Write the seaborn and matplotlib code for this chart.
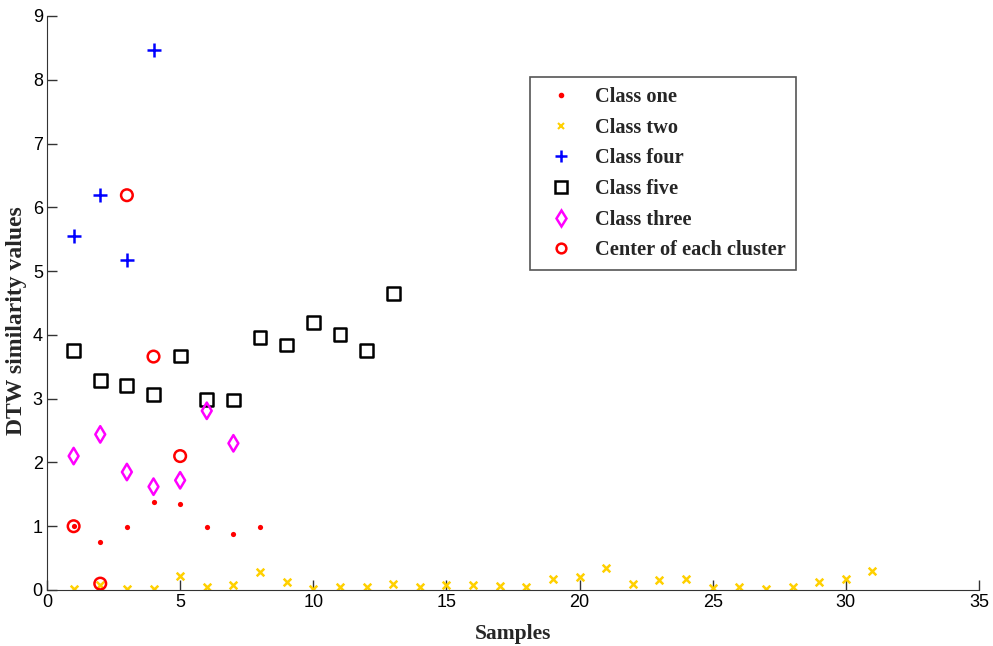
import numpy as np
import pandas as pd
import seaborn as sns
import matplotlib.pyplot as plt
from matplotlib.lines import Line2D

# data
x_one = [1, 2, 3, 4, 5, 6, 7, 8]
y_one = [1.0, 0.76, 0.99, 1.38, 1.35, 0.98, 0.88, 0.99]

x_two = list(range(1, 32))
y_two = [0.01, 0.08, 0.02, 0.02, 0.22, 0.04, 0.08, 0.28, 0.12, 0.02,
         0.05, 0.05, 0.09, 0.05, 0.08, 0.08, 0.07, 0.05, 0.17, 0.21,
         0.34, 0.10, 0.15, 0.18, 0.03, 0.05, 0.02, 0.05, 0.13, 0.18, 0.30]

x_four = [1, 2, 3, 4]
y_four = [5.55, 6.19, 5.17, 8.46]

x_five = list(range(1, 14))
y_five = [3.75, 3.29, 3.21, 3.07, 3.67, 2.99, 2.98, 3.96, 3.84, 4.20, 4.00, 3.76, 4.65]

x_three = [1, 2, 3, 4, 5, 6, 7]
y_three = [2.10, 2.44, 1.85, 1.62, 1.72, 2.81, 2.30]

x_center = [1, 2, 3, 4, 5]
y_center = [1.0, 0.1, 6.19, 3.66, 2.10]

labels = ['Class one', 'Class two', 'Class four', 'Class five', 'Class three', 'Center of each cluster']

sns.set_style('ticks')
plt.rcParams['font.family'] = ['Liberation Sans', 'DejaVu Sans']

fig = plt.figure(figsize=(9.93, 6.46), dpi=100)
ax = fig.add_axes([47 / 993, 56 / 646, 932 / 993, 574 / 646])

yellow = '#FFD000'

# filled / line markers
sns.scatterplot(x=x_one, y=y_one, marker='o', s=14, color='red', edgecolor='red', linewidth=0, ax=ax)
sns.scatterplot(x=x_two, y=y_two, marker='x', s=30, color=yellow, linewidth=1.8, ax=ax)
sns.scatterplot(x=x_four, y=y_four, marker='+', s=110, color='blue', linewidth=1.8, ax=ax)

# open markers: draw, then empty the faces
open_sets = [(x_five, y_five, 's', 85, 'black'),
             (x_three, y_three, 'd', 70, 'magenta'),
             (x_center, y_center, 'o', 70, 'red')]
for xs, ys, mk, sz, col in open_sets:
    n = len(ax.collections)
    sns.scatterplot(x=xs, y=ys, marker=mk, s=sz, color=col, linewidth=1.8, ax=ax)
    coll = ax.collections[n]
    coll.set_facecolor('none')
    coll.set_edgecolor(col)

ax.set_xlim(0, 35)
ax.set_ylim(0, 9)
ax.set_xticks(range(0, 36, 5))
ax.set_yticks(range(0, 10))
ax.tick_params(direction='in', length=7, width=1, labelsize=13, pad=3, colors='#333333', labelcolor='black')
sns.despine(ax=ax)
for sp in ['left', 'bottom']:
    ax.spines[sp].set_color('#333333')

ax.set_xlabel('Samples', fontsize=15.5, fontweight='bold', family='Liberation Serif', labelpad=9)
ax.set_ylabel('DTW similarity values', fontsize=17, fontweight='bold', family='Liberation Serif')
ax.yaxis.set_label_coords(-0.021, 0.47)

handles = [
    Line2D([], [], ls='none', marker='o', ms=3, color='red'),
    Line2D([], [], ls='none', marker='x', ms=5, mew=1.5, color=yellow),
    Line2D([], [], ls='none', marker='+', ms=9, mew=1.8, color='blue'),
    Line2D([], [], ls='none', marker='s', ms=8, mew=1.8, mfc='none', color='black'),
    Line2D([], [], ls='none', marker='d', ms=8, mew=1.8, mfc='none', color='magenta'),
    Line2D([], [], ls='none', marker='o', ms=7, mew=1.8, mfc='none', color='red'),
]
leg = ax.legend(handles, labels, loc='upper left', bbox_to_anchor=((530 - 47) / 932, (590 - 77) / 574),
                borderaxespad=0,
                prop={'family': 'Liberation Serif', 'weight': 'bold', 'size': 14.7},
                fancybox=False, framealpha=1, edgecolor='#555555', borderpad=0.5,
                labelspacing=0.52, handletextpad=0.7)
leg.get_frame().set_linewidth(1.2)

plt.savefig('out.png', dpi=100)
